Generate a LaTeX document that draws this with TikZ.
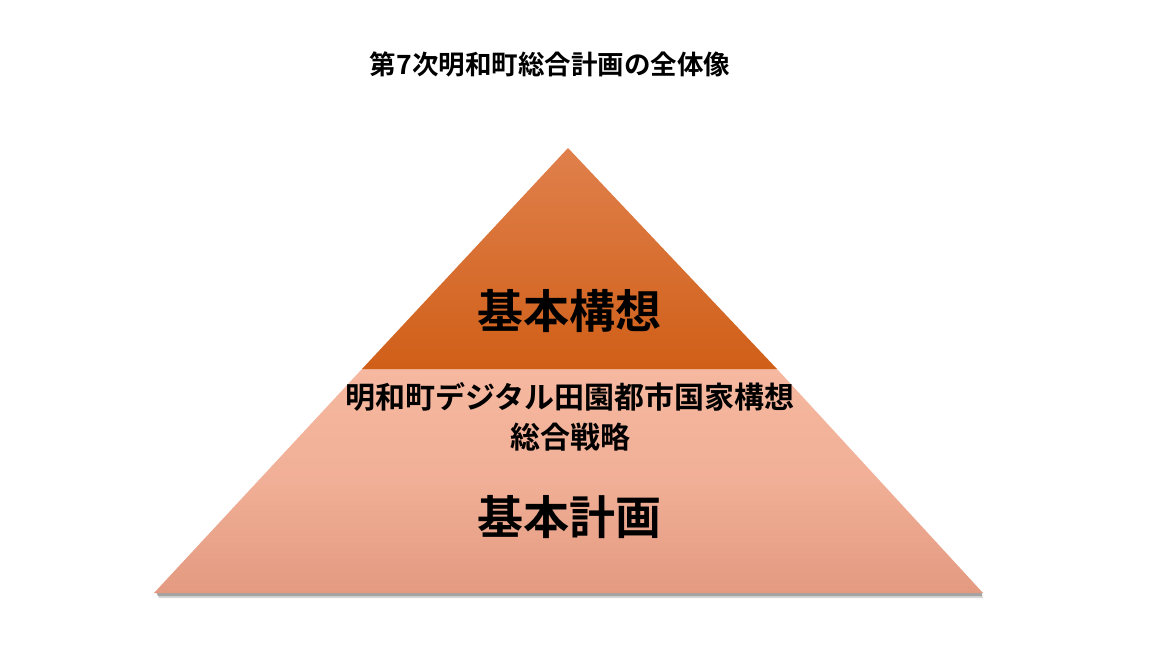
\documentclass[tikz,border=0pt]{standalone}
\usepackage{fontspec}
\newfontfamily\cjk{Noto Sans CJK JP}[BoldFont={Noto Sans CJK JP Bold}]
\definecolor{upTop}{HTML}{E0804C}
\definecolor{upBot}{HTML}{D05F18}
\definecolor{loTop}{HTML}{F6B8A0}
\definecolor{loBot}{HTML}{E39A80}
\tikzset{
  lbl/.style={font=\cjk\bfseries, text=black, inner sep=0pt, align=center},
}
\begin{document}
\begin{tikzpicture}[x=1pt,y=-1pt]
\useasboundingbox[fill=white] (0,0) rectangle (1152,648);
% coordinates
\coordinate (apex) at (568,148);
\coordinate (ml) at (362,369);
\coordinate (mr) at (777,369);
\coordinate (bl) at (154,593);
\coordinate (br) at (983,593);
% shadow
\fill[black!45, opacity=0.35] (157,592) -- (981,592) -- (983,598) -- (159,598) -- cycle;
\fill[black!55, opacity=0.5] (156,592) -- (982,592) -- (982,596) -- (158,596) -- cycle;
% lower trapezoid
\shade[top color=loTop, bottom color=loBot, middle color=loTop!70!loBot] (ml) -- (mr) -- (br) -- (bl) -- cycle;
% upper triangle
\shade[top color=upTop, bottom color=upBot] (apex) -- (mr) -- (ml) -- cycle;
% texts
\node[lbl, font=\cjk\bfseries\fontsize{26.5}{30}\selectfont] (title) at (550,64) {第7次明和町総合計画の全体像};
\node[lbl, font=\cjk\bfseries\fontsize{46}{52}\selectfont] (kouso) at (569,311) {基本構想};
\node[lbl, font=\cjk\bfseries\fontsize{30}{40}\selectfont] (senryaku) at (570,417) {明和町デジタル田園都市国家構想\\総合戦略};
\node[lbl, font=\cjk\bfseries\fontsize{46}{52}\selectfont] (keikaku) at (569,517) {基本計画};
\end{tikzpicture}
\end{document}
